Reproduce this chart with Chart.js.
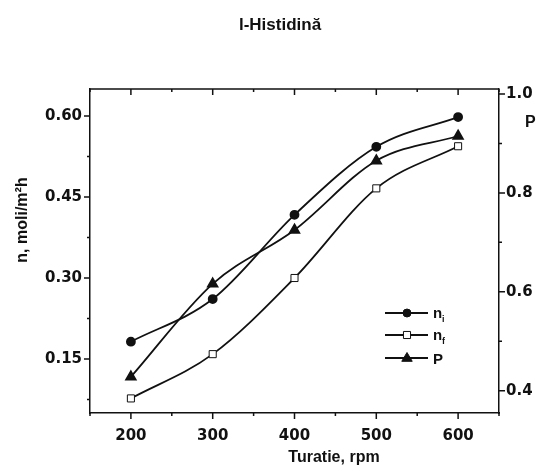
<!DOCTYPE html>
<html>
<head>
<meta charset="utf-8">
<script src="https://cdn.jsdelivr.net/npm/chart.js"></script>
<style>
  body { margin: 0; background: #fff; }
  #wrap { width: 541px; height: 471px; }
</style>
</head>
<body>
<div id="wrap"><canvas id="grafico" width="541" height="471"></canvas></div>
<script>
// date
const turatie = [200, 300, 400, 500, 600]
const nI = [0.182, 0.261, 0.417, 0.543, 0.598]
const nF = [0.077, 0.159, 0.300, 0.466, 0.544]
const pVal = [0.428, 0.616, 0.725, 0.865, 0.915]

// ticks
const xTicks = [150, 200, 250, 300, 350, 400, 450, 500, 550, 600, 650]
const xLabels = [200, 300, 400, 500, 600]
const nTicks = [0.075, 0.15, 0.225, 0.30, 0.375, 0.45, 0.525, 0.60]
const nLabels = [0.15, 0.30, 0.45, 0.60]
const pTicks = [0.4, 0.5, 0.6, 0.7, 0.8, 0.9, 1.0]
const pLabels = [0.4, 0.6, 0.8, 1.0]

const negru = '#111'
const tickFont = { family: 'DejaVu Sans', size: 15, weight: 'bold' }

const has = (arr, v) => arr.some(a => Math.abs(a - v) < 1e-6)
const pts = (vals) => turatie.map((x, i) => ({ x, y: vals[i] }))

const data = {
  datasets: [
    {
      label: 'i', data: pts(nI), yAxisID: 'yN',
      borderColor: negru, borderWidth: 1.8, cubicInterpolationMode: 'monotone',
      pointStyle: 'circle', pointRadius: 4, pointBackgroundColor: negru, pointBorderColor: negru
    },
    {
      label: 'f', data: pts(nF), yAxisID: 'yN',
      borderColor: negru, borderWidth: 1.8, cubicInterpolationMode: 'monotone',
      pointStyle: 'rect', pointRadius: 5, pointBackgroundColor: '#fff', pointBorderColor: negru, pointBorderWidth: 1
    },
    {
      label: 'P', data: pts(pVal), yAxisID: 'yP',
      borderColor: negru, borderWidth: 1.8, cubicInterpolationMode: 'monotone',
      pointStyle: 'triangle', pointRadius: 5.5, pointBackgroundColor: negru, pointBorderColor: negru
    }
  ]
}

function marker(ctx, style, x, y, r, fill) {
  ctx.save()
  ctx.fillStyle = fill
  ctx.strokeStyle = negru
  ctx.lineWidth = 1
  ctx.beginPath()
  if (style === 'circle') {
    ctx.arc(x, y, r, 0, Math.PI * 2)
  } else if (style === 'rect') {
    const s = r * Math.SQRT1_2
    ctx.rect(x - s, y - s, 2 * s, 2 * s)
  } else {
    ctx.moveTo(x, y - r)
    ctx.lineTo(x + r * 0.95, y + r * 0.6)
    ctx.lineTo(x - r * 0.95, y + r * 0.6)
    ctx.closePath()
  }
  ctx.fill()
  ctx.stroke()
  ctx.restore()
}

const moldura = {
  id: 'moldura',
  afterDraw(chart) {
    const ctx = chart.ctx
    const a = chart.chartArea
    const sx = chart.scales.x, sn = chart.scales.yN, sp = chart.scales.yP
    ctx.save()
    ctx.strokeStyle = negru
    ctx.lineWidth = 1.5
    ctx.beginPath()
    ctx.moveTo(a.left, a.top)
    ctx.lineTo(a.right, a.top)
    // ticks x jos (in afara) si sus (in interior)
    xTicks.forEach(v => {
      const px = sx.getPixelForValue(v)
      const len = has(xLabels, v) ? 6 : 3
      ctx.moveTo(px, a.bottom); ctx.lineTo(px, a.bottom + len)
      ctx.moveTo(px, a.top); ctx.lineTo(px, a.top + len)
    })
    nTicks.forEach(v => {
      const py = sn.getPixelForValue(v)
      const len = has(nLabels, v) ? 6 : 3
      ctx.moveTo(a.left, py); ctx.lineTo(a.left - len, py)
    })
    pTicks.forEach(v => {
      const py = sp.getPixelForValue(v)
      const len = has(pLabels, v) ? 6 : 3
      ctx.moveTo(a.right, py); ctx.lineTo(a.right + len, py)
    })
    ctx.stroke()

    ctx.fillStyle = negru
    // titlu
    ctx.font = "bold 17px 'Liberation Sans'"
    ctx.textAlign = 'center'
    ctx.textBaseline = 'alphabetic'
    ctx.fillText('l-Histidină', 280, 30)
    // axa x
    ctx.font = "bold 16px 'Liberation Sans'"
    ctx.fillText('Turatie, rpm', 334, 462)
    // axa stanga
    ctx.save()
    ctx.translate(27, 220)
    ctx.rotate(-Math.PI / 2)
    ctx.fillText('n, moli/m²h', 0, 0)
    ctx.restore()
    // axa dreapta
    ctx.textAlign = 'left'
    ctx.fillText('P', 525, 127)

    // legenda
    const legY = [313, 335, 358]
    chart.data.datasets.forEach((ds, i) => {
      const y = legY[i]
      ctx.lineWidth = 1.8
      ctx.beginPath()
      ctx.moveTo(385, y); ctx.lineTo(428, y)
      ctx.stroke()
      marker(ctx, ds.pointStyle, 407, y, ds.pointRadius, ds.pointBackgroundColor)
      ctx.fillStyle = negru
      ctx.font = "bold 15px 'Liberation Sans'"
      ctx.textAlign = 'left'
      if (ds.label === 'P') {
        ctx.fillText('P', 433, y + 6)
      } else {
        ctx.fillText('n', 433, y + 5)
        ctx.font = "bold 9px 'Liberation Sans'"
        ctx.fillText(ds.label, 442, y + 9)
      }
    })
    ctx.restore()
  }
}

const config = {
  type: 'line',
  data,
  options: {
    responsive: false,
    animation: false,
    layout: { padding: { top: 89 } },
    plugins: { legend: { display: false }, tooltip: { enabled: false } },
    scales: {
      x: {
        type: 'linear', position: 'bottom', min: 150, max: 650,
        grid: { display: false, drawTicks: false },
        border: { display: true, color: negru, width: 1.5 },
        afterBuildTicks: s => { s.ticks = xTicks.map(v => ({ value: v })) },
        afterFit: s => { s.height = 58 },
        ticks: {
          autoSkip: false, maxRotation: 0, padding: 14, color: negru, font: tickFont,
          callback: v => has(xLabels, v) ? String(v) : ''
        }
      },
      yN: {
        type: 'linear', position: 'left', min: 0.05, max: 0.65,
        grid: { display: false, drawTicks: false },
        border: { display: true, color: negru, width: 1.5 },
        afterBuildTicks: s => { s.ticks = nTicks.map(v => ({ value: v })) },
        afterFit: s => { s.width = 90 },
        ticks: {
          autoSkip: false, padding: 8, color: negru, font: tickFont,
          callback: v => has(nLabels, v) ? v.toFixed(2) : ''
        }
      },
      yP: {
        type: 'linear', position: 'right', min: 0.355, max: 1.01,
        grid: { display: false, drawTicks: false },
        border: { display: true, color: negru, width: 1.5 },
        afterBuildTicks: s => { s.ticks = pTicks.map(v => ({ value: v })) },
        afterFit: s => { s.width = 42 },
        ticks: {
          autoSkip: false, padding: 7, color: negru, font: tickFont,
          callback: v => has(pLabels, v) ? v.toFixed(1) : ''
        }
      }
    }
  },
  plugins: [moldura]
}

const grafic = new Chart(document.getElementById('grafico'), config)
</script>
</body>
</html>
